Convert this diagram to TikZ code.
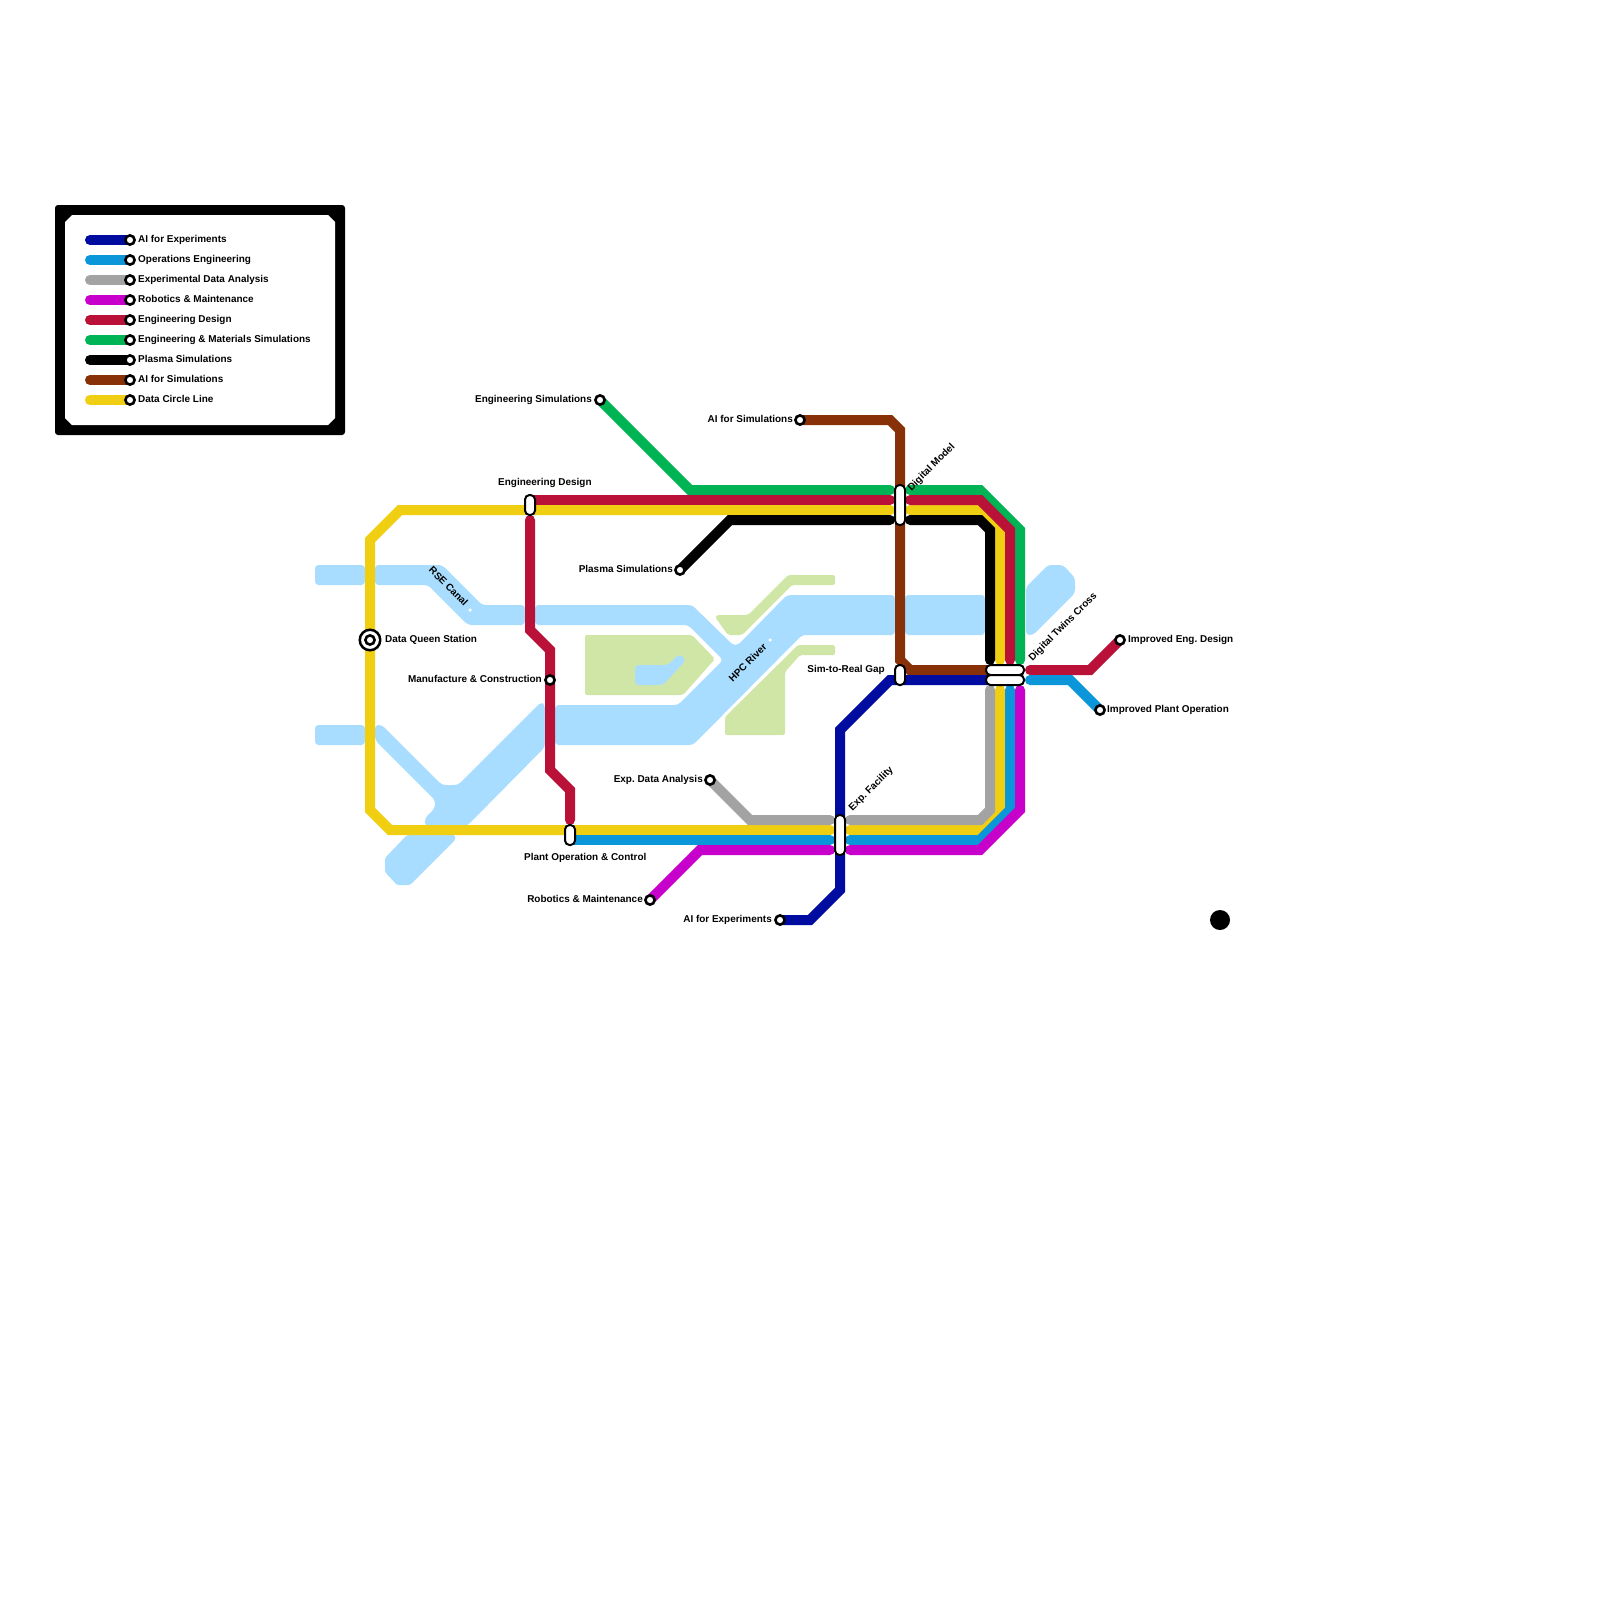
\documentclass[tikz,border=0pt]{standalone}
\usepackage{fontspec}
\setmainfont{Liberation Sans}
\usetikzlibrary{arrows.meta}
\definecolor{riverblue}{HTML}{A8DDFF}
\definecolor{parkgreen}{HTML}{D0E6A6}
\definecolor{lnexp}{HTML}{000C9F}
\definecolor{lnops}{HTML}{0A96D8}
\definecolor{lndata}{HTML}{A3A3A3}
\definecolor{lnrobo}{HTML}{C800CC}
\definecolor{lndesign}{HTML}{BA1138}
\definecolor{lnmat}{HTML}{00B354}
\definecolor{lnsim}{HTML}{883108}
\definecolor{lncircle}{HTML}{F0CF12}
\tikzset{
  route/.style={line width=10pt,line cap=round},
  river/.style={fill=riverblue,rounded corners=3.5pt},
  park/.style={fill=parkgreen,rounded corners=2pt},
  stop/.style={circle,draw=black,fill=white,line width=2.6pt,minimum size=9.2pt,inner sep=0pt},
  pillv/.style={draw=black,fill=white,line width=2pt,rounded corners=4.5pt,minimum width=10pt,inner sep=0pt},
  pillh/.style={draw=black,fill=white,line width=2pt,rounded corners=4.5pt,minimum width=38pt,minimum height=10pt,inner sep=0pt},
  lbl/.style={font=\fontsize{9.95}{12}\selectfont\bfseries\frenchspacing,inner sep=0pt}
}
\begin{document}
\begin{tikzpicture}[x=1pt,y=-1pt]
\useasboundingbox (0,0) rectangle (1600,1600);
% key panel
\begin{scope}
  \fill[black,rounded corners=3pt] (55,205) rectangle (345,435);
  \fill[white] (72,215) -- (328,215) -- (335,222) -- (335,418) -- (328,425) -- (72,425) -- (65,418) -- (65,222) -- cycle;
  \draw[route,lnexp] (90,240) -- (130,240);
  \draw[route,lnops] (90,260) -- (130,260);
  \draw[route,lndata] (90,280) -- (130,280);
  \draw[route,lnrobo] (90,300) -- (130,300);
  \draw[route,lndesign] (90,320) -- (130,320);
  \draw[route,lnmat] (90,340) -- (130,340);
  \draw[route,black] (90,360) -- (130,360);
  \draw[route,lnsim] (90,380) -- (130,380);
  \draw[route,lncircle] (90,400) -- (130,400);
  \node[stop] (keyexp) at (130,240) {};
  \node[stop] (keyops) at (130,260) {};
  \node[stop] (keydata) at (130,280) {};
  \node[stop] (keyrobo) at (130,300) {};
  \node[stop] (keydesign) at (130,320) {};
  \node[stop] (keymat) at (130,340) {};
  \node[stop] (keyplasma) at (130,360) {};
  \node[stop] (keysim) at (130,380) {};
  \node[stop] (keycircle) at (130,400) {};
  \node[lbl,anchor=base west] (keyexptxt) at (138,242) {AI for Experiments};
  \node[lbl,anchor=base west] (keyopstxt) at (138,262) {Operations Engineering};
  \node[lbl,anchor=base west] (keydatatxt) at (138,282) {Experimental Data Analysis};
  \node[lbl,anchor=base west] (keyrobotxt) at (138,302) {Robotics \& Maintenance};
  \node[lbl,anchor=base west] (keydesigntxt) at (138,322) {Engineering Design};
  \node[lbl,anchor=base west] (keymattxt) at (138,342) {Engineering \& Materials Simulations};
  \node[lbl,anchor=base west] (keyplasmatxt) at (138,362) {Plasma Simulations};
  \node[lbl,anchor=base west] (keysimtxt) at (138,382) {AI for Simulations};
  \node[lbl,anchor=base west] (keycircletxt) at (138,402) {Data Circle Line};
\end{scope}
% water
\fill[river] (315,565) rectangle (365,585);
\fill[river] (315,725) rectangle (365,745);
\fill[river] (375,565) -- (442,565) -- (482,605) -- (525,605) -- (525,625) -- (468,625) -- (428,585) -- (375,585) -- cycle;
\fill[river] (535,605) -- (692,605) -- (733,645) -- (738,645) -- (787,595) -- (895,595) -- (895,635) -- (802,635) -- (693,745) -- (555,745) -- (555,705) -- (678,705) -- (723,660) -- (688,625) -- (535,625) -- cycle;
\fill[river] (905,595) rectangle (985,635);
\fill[river] (1026,587) -- (1048,565) -- (1063,565) -- (1075,578) -- (1075,593) -- (1033,635) -- (1026,635) -- cycle;
\fill[river] (375,725) -- (382,725) -- (442,785) -- (458,785) -- (541,702) -- (545,705) -- (545,747) -- (467,826) -- (425,826) -- (425,818) -- (435,808) -- (435,800) -- (375,740) -- cycle;
\fill[river,rounded corners=1.5pt] (407,835) -- (455,835) -- (455,840) -- (410,885) -- (397,885) -- (385,872) -- (385,858) -- cycle;
% parks
\fill[park] (585,635) -- (692,635) -- (715,659) -- (683,695) -- (585,695) -- cycle;
\fill[river] (635,665) -- (668,665) -- (679,654) -- (686,660) -- (663,685) -- (635,685) -- cycle;
\fill[park] (715,617) -- (717,615) -- (748,615) -- (788,575) -- (835,575) -- (835,585) -- (792,585) -- (742,635) -- (728,635) -- cycle;
\fill[park] (725,717) -- (798,645) -- (835,645) -- (835,655) -- (800,655) -- (785,672) -- (785,735) -- (725,735) -- cycle;
% where the routes stop
\coordinate (engsim) at (600,400);
\coordinate (aisim) at (800,420);
\coordinate (plasma) at (680,570);
\coordinate (engdesign) at (530,505);
\coordinate (manuf) at (550,680);
\coordinate (queen) at (370,640);
\coordinate (plantop) at (570,835);
\coordinate (robo) at (650,900);
\coordinate (aiexp) at (780,920);
\coordinate (expdata) at (710,780);
\coordinate (impeng) at (1120,640);
\coordinate (impplant) at (1100,710);
\path (890,490) coordinate (matA) (910,490) coordinate (matB) (1020,660) coordinate (matC);
\path (890,500) coordinate (desA) (910,500) coordinate (desB) (1010,660) coordinate (desC) (1030,670) coordinate (desD) (530,520) coordinate (desE) (570,820) coordinate (desF) (530,500) coordinate (desG);
\path (890,510) coordinate (cirA) (910,510) coordinate (cirB) (1000,660) coordinate (cirC) (1000,690) coordinate (cirD) (830,830) coordinate (cirE) (850,830) coordinate (cirF);
\path (890,520) coordinate (plaA) (910,520) coordinate (plaB) (990,660) coordinate (plaC);
\path (990,670) coordinate (simA);
\path (990,680) coordinate (expA);
\path (830,820) coordinate (datA) (850,820) coordinate (datB) (990,690) coordinate (datC);
\path (570,840) coordinate (opsA) (830,840) coordinate (opsB) (850,840) coordinate (opsC) (1010,690) coordinate (opsD) (1030,680) coordinate (opsE);
\path (830,850) coordinate (robA) (850,850) coordinate (robB) (1020,690) coordinate (robC);
% routes
\draw[route,lncircle] (cirA) -- (400,510) -- (370,540) -- (370,810) -- (390,830) -- (cirE);
\draw[route,lncircle] (cirB) -- (980,510) -- (1000,530) -- (cirC);
\draw[route,lncircle] (cirF) -- (980,830) -- (1000,810) -- (cirD);
\draw[route,lnmat] (engsim) -- (690,490) -- (matA);
\draw[route,lnmat] (matB) -- (980,490) -- (1020,530) -- (matC);
\draw[route,lndesign] (desG) -- (desA);
\draw[route,lndesign] (desB) -- (980,500) -- (1010,530) -- (desC);
\draw[route,lndesign] (desE) -- (530,630) -- (550,650) -- (550,770) -- (570,790) -- (desF);
\draw[route,lndesign] (desD) -- (1090,670) -- (impeng);
\draw[route,black] (plasma) -- (730,520) -- (plaA);
\draw[route,black] (plaB) -- (980,520) -- (990,530) -- (plaC);
\draw[route,lnsim] (aisim) -- (890,420) -- (900,430) -- (900,660) -- (910,670) -- (simA);
\draw[route,lnexp] (aiexp) -- (810,920) -- (840,890) -- (840,730) -- (890,680) -- (expA);
\draw[route,lndata] (expdata) -- (750,820) -- (datA);
\draw[route,lndata] (datB) -- (980,820) -- (990,810) -- (datC);
\draw[route,lnops] (opsA) -- (opsB);
\draw[route,lnops] (opsC) -- (980,840) -- (1010,810) -- (opsD);
\draw[route,lnops] (opsE) -- (1070,680) -- (impplant);
\draw[route,lnrobo] (robo) -- (700,850) -- (robA);
\draw[route,lnrobo] (robB) -- (980,850) -- (1020,810) -- (robC);
% interchanges
\node[pillv,minimum height=20pt] (engdesignpill) at (engdesign) {};
\node[pillv,minimum height=20pt] (plantoppill) at (plantop) {};
\node[pillv,minimum height=40pt] (dmodelpill) at (900,505) {};
\node[pillv,minimum height=40pt] (expfacpill) at (840,835) {};
\node[pillv,minimum height=20pt] (gappill) at (900,675) {};
\node[pillh] (twinspillA) at (1005,670) {};
\node[pillh] (twinspillB) at (1005,680) {};
% stations
\node[stop] (engsimstop) at (engsim) {};
\node[stop] (aisimstop) at (aisim) {};
\node[stop] (plasmastop) at (plasma) {};
\node[stop] (manufstop) at (manuf) {};
\node[stop] (robostop) at (robo) {};
\node[stop] (aiexpstop) at (aiexp) {};
\node[stop] (expdatastop) at (expdata) {};
\node[stop] (impengstop) at (impeng) {};
\node[stop] (impplantstop) at (impplant) {};
\node[circle,draw=black,fill=white,line width=2.5pt,minimum size=20.5pt,inner sep=0pt] (queenring) at (queen) {};
\node[stop] (queenstop) at (queen) {};
\node[circle,fill=white,minimum size=3.5pt,inner sep=0pt] (rsedot) at (470,610) {};
\node[circle,fill=white,minimum size=3.5pt,inner sep=0pt] (hpcdot) at (770,640) {};
\node[circle,fill=black,minimum size=20pt,inner sep=0pt] (blackdot) at (1220,920) {};
% labels
\node[lbl,anchor=base east] (engsimtxt) at (592,402) {Engineering Simulations};
\node[lbl,anchor=base east] (aisimtxt) at (793,422) {AI for Simulations};
\node[lbl,anchor=base west] (engdesigntxt) at (498,485) {Engineering Design};
\node[lbl,anchor=base east] (plasmatxt) at (673,572) {Plasma Simulations};
\node[lbl,anchor=base west] (queentxt) at (385,642) {Data Queen Station};
\node[lbl,anchor=base east] (manuftxt) at (542,682) {Manufacture \& Construction};
\node[lbl,anchor=base east] (gaptxt) at (885,672) {Sim-to-Real Gap};
\node[lbl,anchor=base east] (expdatatxt) at (703,782) {Exp. Data Analysis};
\node[lbl,anchor=base west] (plantoptxt) at (524,860) {Plant Operation \& Control};
\node[lbl,anchor=base east] (robotxt) at (643,902) {Robotics \& Maintenance};
\node[lbl,anchor=base east] (aiexptxt) at (772,922) {AI for Experiments};
\node[lbl,anchor=base west] (impengtxt) at (1128,642) {Improved Eng. Design};
\node[lbl,anchor=base west] (impplanttxt) at (1107,712) {Improved Plant Operation};
\node[lbl,anchor=south west,rotate=45] (dmodeltxt) at (913,493) {Digital Model};
\node[lbl,anchor=south west,rotate=45] (twinstxt) at (1034,663) {Digital Twins Cross};
\node[lbl,anchor=south west,rotate=45] (expfactxt) at (854,813) {Exp. Facility};
\node[lbl,anchor=south west,rotate=45] (hpctxt) at (733,683) {HPC River};
\node[lbl,anchor=south west,rotate=-45] (rsetxt) at (428,571) {RSE Canal};
\end{tikzpicture}
\end{document}
